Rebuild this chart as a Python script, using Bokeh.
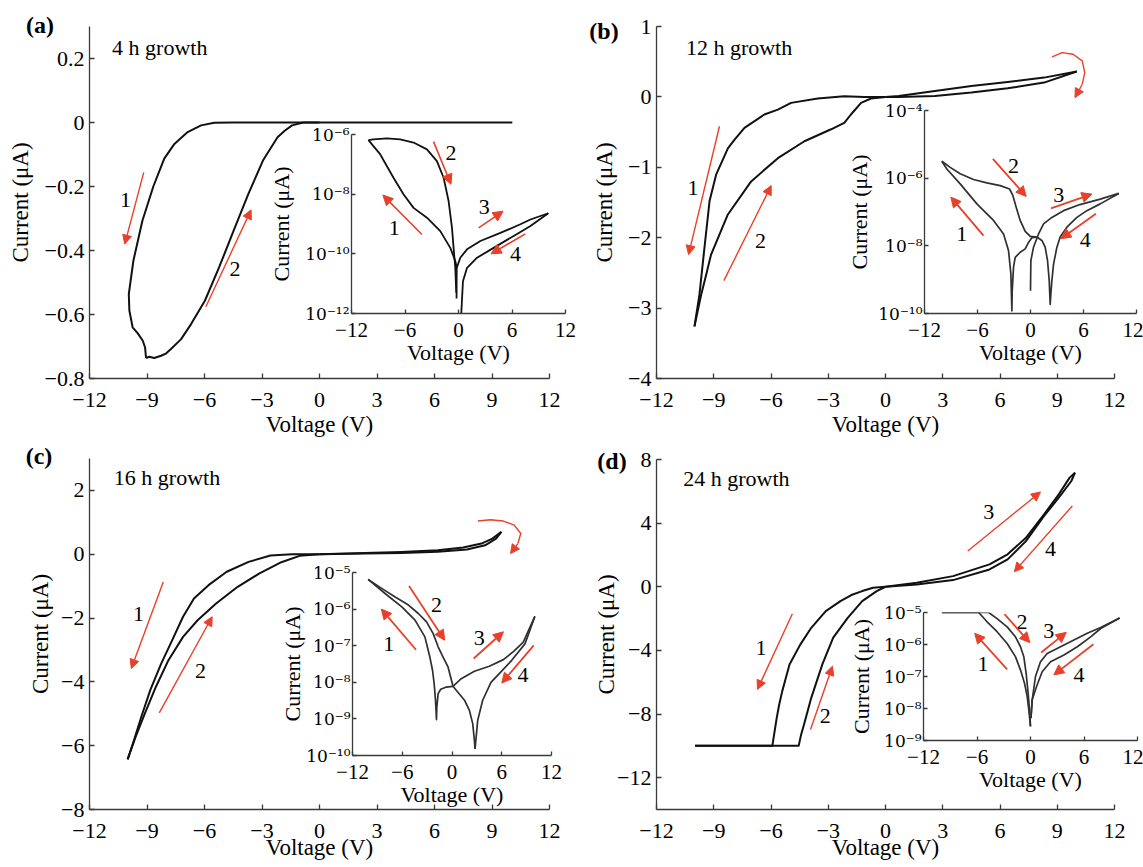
import numpy as np
from bokeh.plotting import figure
from bokeh.models import (Range1d, FixedTicker, CustomJSTickFormatter, Arrow,
                          NormalHead, GridBox, Div)
from bokeh.core.properties import value
from bokeh.embed import file_html
from bokeh.resources import INLINE

FONT = "Liberation Serif"
SUP_FONT = "DejaVu Serif"
RED = "#e8402a"
INK = "#111111"
GREY_INK = "#303030"
AX = "#3a3a3a"

X_RANGE = (-12, 12)
X_TICKS_MAIN = [-12, -9, -6, -3, 0, 3, 6, 9, 12]
X_TICKS_INSET = [-12, -6, 0, 6, 12]

# ------------------------------------------------------------------ (a) 4 h
A_S1_V = [0.0, -4.5, -5.49, -6.18, -6.88, -7.57, -8.1, -8.67, -9.24, -9.71, -9.95, -9.92, -9.75, -9.48, -9.22, -9.1, -9.05]
A_S1_I = [0.0, 0.0, -0.001, -0.009, -0.03, -0.067, -0.113, -0.2, -0.307, -0.432, -0.536, -0.588, -0.64, -0.659, -0.682, -0.703, -0.736]
A_S2_V = [-9.05, -8.88, -8.62, -8.27, -8.01, -7.75, -7.22, -6.7, -5.98, -5.24, -4.48, -3.71, -2.95, -2.19, -1.8, -1.43, -0.86, 0.0, 10.06]
A_S2_I = [-0.736, -0.732, -0.736, -0.729, -0.722, -0.708, -0.677, -0.63, -0.557, -0.453, -0.338, -0.223, -0.119, -0.046, -0.025, -0.009, 0.0, 0.0, 0.0]
A_YRANGE = (-0.8, 0.3)
A_YTICKS = [-0.8, -0.6, -0.4, -0.2, 0, 0.2]
A_ARROWS = [(-9.17, -0.156, -10.16, -0.38), (-5.93, -0.576, -3.57, -0.273)]
A_NUM = (["1", "2"], [-10.12, -4.41], [-0.242, -0.458])
A_TITLE = ("4 h growth", -10.82, 0.234)

AI_S1_V = [-0.22, -0.2, -0.36, -0.92, -2.04, -3.54, -5.04, -6.17, -7.29, -8.79, -10.1]
AI_S1_L = [-11.5, -10.47, -10.24, -9.8, -9.24, -8.79, -8.46, -8.0, -7.45, -6.66, -6.19]
AI_S2_V = [-10.1, -9.54, -8.03, -6.54, -5.04, -3.54, -2.42, -1.67, -1.11, -0.73, -0.55, -0.36, -0.25]
AI_S2_L = [-6.19, -6.16, -6.13, -6.16, -6.27, -6.5, -6.89, -7.45, -8.23, -9.13, -9.8, -10.47, -11.3]
AI_S3_V = [-0.2, 0.2, 0.96, 2.45, 4.7, 6.94, 8.07, 10.07]
AI_S3_L = [-10.47, -10.13, -9.85, -9.57, -9.3, -9.01, -8.85, -8.64]
AI_S4_V = [10.07, 8.07, 6.19, 3.94, 2.08, 0.96, 0.5, 0.31]
AI_S4_L = [-8.64, -9.07, -9.4, -9.8, -10.13, -10.47, -10.92, -12.0]
AI_YRANGE = (1e-12, 1e-6)
AI_YTICKS = [1e-12, 1e-10, 1e-8, 1e-6]
AI_ARROWS = [(-4.1, -9.35, -8.48, -8.03), (-2.8, -6.24, -0.84, -7.67),
             (2.26, -9.13, 5.0, -8.57), (7.5, -9.33, 3.65, -10.0)]
AI_NUM = (["1", "2", "3", "4"], [-7.21, -0.84, 2.9, 6.38], [-9.13, -6.63, -8.43, -10.02])

# ------------------------------------------------------------------ (b) 12 h
B_S1_V = [0.0, -1.11, -2.16, -3.55, -4.95, -5.64, -6.35, -7.39, -7.92, -8.26, -8.87, -9.22, -9.49, -9.75, -10.01]
B_S1_I = [0.0, 0.0, 0.01, -0.023, -0.085, -0.18, -0.25, -0.44, -0.61, -0.73, -1.1, -1.48, -2.15, -2.81, -3.26]
B_S2_V = [-10.01, -9.66, -9.4, -9.14, -8.26, -7.04, -5.64, -4.25, -2.85, -2.16, -1.81, -1.28, -0.76, 0.0]
B_S2_I = [-3.26, -2.81, -2.53, -2.24, -1.67, -1.2, -0.87, -0.63, -0.46, -0.37, -0.25, -0.085, -0.023, 0.0]
B_S3_V = [0.0, 0.69, 2.59, 4.5, 6.4, 8.31, 10.02]
B_S3_I = [0.0, 0.014, 0.085, 0.156, 0.213, 0.274, 0.36]
B_S4_V = [10.02, 8.31, 6.4, 4.5, 2.59, 0.69, 0.0]
B_S4_I = [0.36, 0.203, 0.123, 0.061, 0.014, 0.0, 0.0]
B_ARC_V = [8.73, 9.26, 9.83, 10.31, 10.44, 10.31, 9.93]
B_ARC_I = [0.568, 0.629, 0.606, 0.511, 0.345, 0.18, -0.01]
B_YRANGE = (-4, 1)
B_YTICKS = [-4, -3, -2, -1, 0, 1]
B_ARROWS = [(-8.7, -0.417, -10.32, -2.24), (-8.47, -2.61, -5.99, -1.26)]
B_NUM = (["1", "2"], [-10.09, -6.55], [-1.29, -2.05])
B_TITLE = ("12 h growth", -10.46, 0.70)

BI_S1_V = [0.72, 0.15, -0.22, -0.6, -1.17, -1.73, -1.92, -2.07, -2.11, -2.22, -2.49, -3.05, -4.19, -6.07, -7.96, -9.47, -10.04]
BI_S1_L = [-7.74, -7.76, -7.9, -8.09, -8.19, -8.34, -8.63, -9.33, -9.92, -8.83, -8.14, -7.65, -7.25, -6.76, -6.17, -5.73, -5.5]
BI_S2_V = [-10.04, -9.09, -7.96, -6.45, -4.94, -3.43, -2.37, -2.0, -1.62, -1.17, -0.6, -0.03, 0.72]
BI_S2_L = [-5.5, -5.68, -5.87, -6.04, -6.14, -6.22, -6.32, -6.51, -6.86, -7.25, -7.57, -7.72, -7.74]
BI_S3_V = [0.0, 0.04, 0.34, 0.91, 1.48, 2.42, 3.74, 5.6, 7.9, 10.0]
BI_S3_L = [-9.33, -8.44, -8.04, -7.65, -7.35, -7.16, -6.96, -6.78, -6.62, -6.45]
BI_S4_V = [10.0, 7.89, 6.38, 5.25, 4.12, 3.36, 2.99, 2.61, 2.42, 2.31, 2.23, 2.12, 1.93, 1.66, 1.29, 0.72]
BI_S4_L = [-6.45, -6.76, -6.96, -7.16, -7.45, -7.74, -8.04, -8.54, -9.03, -9.4, -9.73, -9.03, -8.44, -8.04, -7.84, -7.74]
BI_YRANGE = (1e-10, 1e-4)
BI_YTICKS = [1e-10, 1e-8, 1e-6, 1e-4]
BI_ARROWS = [(-5.32, -7.7, -9.02, -6.56), (-4.26, -5.43, -0.49, -6.54),
             (2.31, -6.89, 6.95, -6.47), (7.4, -7.05, 3.44, -7.79)]
BI_NUM = (["1", "2", "3", "4"], [-7.77, -1.92, 3.21, 6.2], [-7.65, -5.63, -6.51, -7.84])

# ------------------------------------------------------------------ (c) 16 h
C_S1_V = [0.0, -1.42, -2.56, -3.7, -4.84, -5.79, -6.55, -7.12, -7.69, -8.26, -8.83, -9.3, -9.68, -10.01]
C_S1_I = [0.0, 0.0, -0.04, -0.24, -0.55, -0.97, -1.39, -1.96, -2.7, -3.43, -4.26, -5.1, -5.83, -6.43]
C_S2_V = [-10.01, -9.59, -9.11, -8.54, -7.88, -7.12, -6.36, -5.41, -4.27, -3.13, -1.99, -1.04, 0.0]
C_S2_I = [-6.43, -5.72, -4.99, -4.16, -3.32, -2.59, -2.07, -1.55, -1.02, -0.6, -0.25, -0.05, 0.0]
C_S3_V = [0.0, 2.37, 4.27, 6.17, 7.5, 8.45, 9.02, 9.49]
C_S3_I = [0.0, 0.04, 0.07, 0.125, 0.21, 0.335, 0.49, 0.7]
C_S4_V = [9.49, 9.21, 8.64, 7.69, 6.17, 4.27, 2.37, 0.0]
C_S4_I = [0.7, 0.49, 0.28, 0.15, 0.08, 0.04, 0.02, 0.0]
C_ARC_V = [8.26, 8.92, 9.59, 10.16, 10.5, 10.35, 9.97]
C_ARC_I = [1.04, 1.08, 1.04, 0.91, 0.65, 0.335, 0.02]
C_YRANGE = (-8, 3)
C_YTICKS = [-8, -6, -4, -2, 0, 2]
C_ARROWS = [(-8.15, -0.87, -9.82, -3.58), (-8.36, -4.97, -5.6, -1.96)]
C_NUM = (["1", "2"], [-9.44, -6.21], [-1.86, -3.66])
C_TITLE = ("16 h growth", -10.73, 2.39)

CI_S1_V = [0.12, -0.68, -1.36, -1.67, -1.83, -1.87, -1.99, -2.15, -2.35, -2.67, -3.27, -4.46, -6.05, -8.04, -10.11]
CI_S1_L = [-8.11, -8.13, -8.19, -8.31, -8.68, -9.02, -8.49, -8.04, -7.67, -7.31, -6.76, -6.3, -5.94, -5.58, -5.19]
CI_S2_V = [-10.11, -8.44, -6.85, -5.25, -4.06, -3.07, -2.27, -1.67, -1.08, -0.48, -0.16, 0.12, 0.71, 1.51, 2.1, 2.5, 2.7, 2.78]
CI_S2_L = [-5.19, -5.44, -5.67, -5.89, -6.12, -6.35, -6.67, -7.03, -7.31, -7.58, -7.86, -8.11, -8.27, -8.49, -8.77, -9.13, -9.59, -9.82]
CI_S3_V = [0.12, 1.11, 2.7, 4.5, 6.2, 7.47, 8.6, 9.99]
CI_S3_L = [-8.11, -7.9, -7.7, -7.56, -7.38, -7.15, -6.9, -6.2]
CI_S4_V = [9.99, 8.8, 7.2, 4.7, 3.7, 3.1, 2.78]
CI_S4_L = [-6.2, -6.95, -7.4, -8.0, -8.49, -9.04, -9.82]
CI_YRANGE = (1e-10, 1e-5)
CI_YTICKS = [1e-10, 1e-9, 1e-8, 1e-7, 1e-6, 1e-5]
CI_ARROWS = [(-4.34, -7.11, -8.52, -6.0), (-5.18, -5.37, -0.88, -6.85),
             (2.62, -7.35, 6.2, -6.62), (9.86, -6.99, 6.0, -8.02)]
CI_NUM = (["1", "2", "3", "4"], [-7.64, -1.87, 3.3, 8.55], [-6.94, -5.89, -6.78, -7.81])

# ------------------------------------------------------------------ (d) 24 h
D_S1_V = [0.0, -0.65, -1.22, -1.79, -2.36, -3.13, -3.89, -4.46, -5.03, -5.22, -5.41, -5.57, -5.7, -5.93, -9.98]
D_S1_I = [0.0, -0.06, -0.27, -0.52, -0.9, -1.53, -2.58, -3.62, -4.88, -5.72, -6.56, -7.4, -8.24, -10.0, -10.0]
D_S2_V = [-9.98, -4.55, -4.42, -4.27, -3.89, -3.31, -2.74, -1.98, -1.22, -0.46, 0.0]
D_S2_I = [-10.0, -10.0, -9.28, -8.66, -6.98, -4.88, -3.2, -1.95, -0.9, -0.27, 0.0]
D_S3_V = [0.0, 1.64, 3.54, 5.45, 6.4, 7.36, 8.31, 9.08, 9.65, 9.93]
D_S3_I = [0.0, 0.25, 0.67, 1.41, 2.04, 3.08, 4.55, 5.81, 6.86, 7.17]
D_S4_V = [9.93, 9.74, 9.08, 8.31, 7.36, 6.4, 5.45, 3.54, 1.64, 0.0]
D_S4_I = [7.17, 6.65, 5.6, 4.45, 2.87, 1.72, 1.09, 0.42, 0.15, 0.0]
D_YRANGE = (-14, 8)
D_YTICKS = [-12, -8, -4, 0, 4, 8]
D_ARROWS = [(-4.88, -1.7, -6.71, -6.45), (-3.93, -8.97, -2.78, -4.99),
            (4.31, 2.25, 8.12, 5.96), (9.79, 5.08, 6.75, 0.95)]
D_NUM = (["1", "2", "3", "4"], [-6.52, -3.16, 5.41, 8.65], [-3.87, -8.13, 4.72, 2.35])
D_TITLE = ("24 h growth", -10.6, 6.79)

DI_S1_V = [0.0, -0.19, -0.37, -0.67, -1.12, -1.69, -2.62, -3.75, -4.87, -5.81, -9.94]
DI_S1_L = [-8.56, -8.04, -7.63, -7.21, -6.8, -6.38, -5.97, -5.6, -5.29, -5.0, -5.0]
DI_S2_V = [-9.94, -4.69, -3.75, -2.62, -1.69, -1.12, -0.75, -0.49, -0.3, -0.11, 0.0]
DI_S2_L = [-5.0, -5.0, -5.19, -5.45, -5.76, -6.07, -6.38, -6.9, -7.42, -8.04, -8.56]
DI_S3_V = [0.05, 0.19, 0.56, 1.12, 1.87, 3.37, 4.87, 6.37, 7.87, 10.0]
DI_S3_L = [-8.3, -7.73, -7.0, -6.54, -6.28, -6.07, -5.86, -5.65, -5.47, -5.17]
DI_S4_V = [10.0, 7.87, 6.75, 5.25, 3.75, 2.25, 1.31, 0.67, 0.19, 0.05]
DI_S4_L = [-5.17, -5.5, -5.76, -6.07, -6.33, -6.54, -6.85, -7.32, -7.73, -8.3]
DI_YRANGE = (1e-9, 1e-5)
DI_YTICKS = [1e-9, 1e-8, 1e-7, 1e-6, 1e-5]
DI_ARROWS = [(-2.62, -6.78, -6.26, -5.65), (-2.92, -5.05, -0.08, -5.94),
             (1.2, -6.25, 4.01, -5.62), (7.05, -5.99, 2.62, -6.95)]
DI_NUM = (["1", "2", "3", "4"], [-5.32, -0.94, 2.06, 5.44], [-6.61, -5.3, -5.57, -6.95])

PANEL_TAGS = ["(a)", "(b)", "(c)", "(d)"]

# ------------------------------------------------------------------ formatters
MINUS_JS = "return String(tick).replace('-', '\u2212');"
LOG_JS = """
const e = Math.round(Math.log10(tick));
const m = {'-':'\u207b','0':'\u2070','1':'\u00b9','2':'\u00b2','3':'\u00b3','4':'\u2074',
           '5':'\u2075','6':'\u2076','7':'\u2077','8':'\u2078','9':'\u2079'};
return '10' + String(e).split('').map(c => m[c]).join('');
"""


def style_axes(p, tick_size, label_size, tick_in):
    for ax in (p.xaxis[0], p.yaxis[0]):
        ax.axis_line_color = AX
        ax.axis_line_width = 1.3
        ax.major_tick_line_color = AX
        ax.major_tick_line_width = 1.3
        ax.major_tick_in = tick_in
        ax.major_tick_out = 0
        ax.minor_tick_line_color = None
        ax.major_label_text_font = FONT
        ax.major_label_text_font_size = tick_size
        ax.major_label_text_color = "black"
        ax.axis_label_text_font = FONT
        ax.axis_label_text_font_size = label_size
        ax.axis_label_text_font_style = "normal"
        ax.axis_label_text_color = "black"


def build_main(g, yrange, yticks, ylab_standoff, xlab_standoff):
    p = figure(width=g["w"], height=g["h"], x_range=Range1d(*X_RANGE), y_range=Range1d(*yrange),
               output_backend="svg", toolbar_location=None, tools="", title_location=None,
               frame_align=False,
               min_border_left=g["l"], min_border_right=g["r"],
               min_border_top=g["t"], min_border_bottom=g["b"])
    p.grid.visible = False
    p.outline_line_color = None
    p.background_fill_color = "white"
    p.border_fill_color = "white"
    style_axes(p, "22px", "23px", 5)
    p.xaxis.ticker = FixedTicker(ticks=X_TICKS_MAIN)
    p.yaxis.ticker = FixedTicker(ticks=yticks)
    p.xaxis.formatter = CustomJSTickFormatter(code=MINUS_JS)
    p.yaxis.formatter = CustomJSTickFormatter(code=MINUS_JS)
    p.xaxis.major_label_standoff = 14
    p.yaxis.major_label_standoff = 5
    p.xaxis.axis_label = "Voltage (V)"
    p.yaxis.axis_label = "Current (\u03bcA)"
    p.xaxis.axis_label_standoff = xlab_standoff
    p.yaxis.axis_label_standoff = ylab_standoff
    return p


def build_inset(g, yrange, yticks, ylab_standoff):
    L, T, B = 100, 12, 64
    p = figure(width=L + g["fw"] + g["r"], height=T + g["fh"] + B,
               x_range=Range1d(*X_RANGE), y_range=Range1d(*yrange), y_axis_type="log",
               output_backend="svg", toolbar_location=None, tools="", title_location=None,
               frame_align=False,
               min_border_left=L, min_border_right=g["r"], min_border_top=T, min_border_bottom=B)
    p.margin = (g["ft"] - T, 0, 0, g["fl"] - L)
    p.grid.visible = False
    p.outline_line_color = None
    p.background_fill_alpha = 0
    p.border_fill_alpha = 0
    style_axes(p, "21px", "22px", 4)
    p.yaxis.major_label_text_font = SUP_FONT
    p.yaxis.major_label_text_font_size = "17px"
    p.xaxis.ticker = FixedTicker(ticks=X_TICKS_INSET)
    p.yaxis.ticker = FixedTicker(ticks=yticks)
    p.xaxis.formatter = CustomJSTickFormatter(code=MINUS_JS)
    p.yaxis.formatter = CustomJSTickFormatter(code=LOG_JS)
    p.xaxis.major_label_standoff = 9
    p.yaxis.major_label_standoff = 2
    p.xaxis.axis_label = "Voltage (V)"
    p.yaxis.axis_label = "Current (\u03bcA)"
    p.xaxis.axis_label_standoff = 0
    p.yaxis.axis_label_standoff = ylab_standoff
    return p


def build_tag(text, cx, cy):
    w, h = 50, 30
    return Div(text=text, width=w, height=h,
               margin=(int(round(cy - h / 2)), 0, 0, int(round(cx - w / 2))),
               styles={"font-family": FONT, "font-size": "24px", "font-weight": "bold",
                       "line-height": "30px", "text-align": "center", "color": "black"})


def add_arrows(p, arrows, log=False, head=9, width=1.4):
    for (x0, y0, x1, y1) in arrows:
        if log:
            y0, y1 = 10 ** y0, 10 ** y1
        p.add_layout(Arrow(end=NormalHead(size=head, fill_color=RED, line_color=RED, line_width=1),
                           x_start=x0, y_start=y0, x_end=x1, y_end=y1,
                           line_color=RED, line_width=width))


def add_numbers(p, nums, log=False):
    t, xs, ys = nums
    if log:
        ys = list(10 ** np.array(ys))
    p.text(x=xs, y=ys, text=t, text_font=value(FONT), text_font_size="22px",
           text_align="center", text_baseline="middle", text_color="black")


def add_title(p, title):
    s, x, y = title
    p.text(x=[x], y=[y], text=[s], text_font=value(FONT), text_font_size="22px",
           text_align="left", text_baseline="middle", text_color="black")


def add_arc(p, xs, ys):
    p.line(xs[:-1], ys[:-1], line_color=RED, line_width=1.4)
    add_arrows(p, [(xs[-2], ys[-2], xs[-1], ys[-1])])


def main_lines(p, series, color=INK, width=2.0):
    for xs, ys in series:
        p.line(xs, ys, line_color=color, line_width=width, line_join="round")


def inset_lines(p, series, color, width):
    for xs, ls in series:
        p.line(xs, list(10 ** np.array(ls)), line_color=color, line_width=width, line_join="round")


# ------------------------------------------------------------------ geometry (page pixels)
GA = dict(w=568, h=444, l=89, r=19, t=26, b=66)
GB = dict(w=575, h=444, l=88, r=29, t=26, b=66)
GC = dict(w=568, h=423, l=89, r=19, t=14, b=58)
GD = dict(w=575, h=423, l=88, r=29, t=15, b=58)
IA = dict(fl=351, ft=134, fw=214, fh=179, r=14)
IB = dict(fl=924, ft=110, fw=212, fh=203, r=7)
IC = dict(fl=352, ft=128, fw=199, fh=183, r=14)
ID = dict(fl=923, ft=168, fw=214, fh=128, r=6)
TAG_POS = [(40, 25), (36, 31), (39, 12), (44, 17)]

# (a)
pa = build_main(GA, A_YRANGE, A_YTICKS, 9, 2)
main_lines(pa, [(A_S1_V, A_S1_I), (A_S2_V, A_S2_I)])
add_arrows(pa, A_ARROWS)
add_numbers(pa, A_NUM)
add_title(pa, A_TITLE)
ia = build_inset(IA, AI_YRANGE, AI_YTICKS, 8)
inset_lines(ia, [(AI_S1_V, AI_S1_L), (AI_S2_V, AI_S2_L), (AI_S3_V, AI_S3_L), (AI_S4_V, AI_S4_L)], INK, 1.8)
add_arrows(ia, AI_ARROWS, log=True, head=10, width=1.6)
add_numbers(ia, AI_NUM, log=True)

# (b)
pb = build_main(GB, B_YRANGE, B_YTICKS, 8, 2)
main_lines(pb, [(B_S1_V, B_S1_I), (B_S2_V, B_S2_I), (B_S3_V, B_S3_I), (B_S4_V, B_S4_I)])
add_arrows(pb, B_ARROWS)
add_arc(pb, B_ARC_V, B_ARC_I)
add_numbers(pb, B_NUM)
add_title(pb, B_TITLE)
ib = build_inset(IB, BI_YRANGE, BI_YTICKS, 3)
inset_lines(ib, [(BI_S1_V, BI_S1_L), (BI_S2_V, BI_S2_L), (BI_S3_V, BI_S3_L), (BI_S4_V, BI_S4_L)], GREY_INK, 1.7)
add_arrows(ib, BI_ARROWS, log=True, head=10, width=1.8)
add_numbers(ib, BI_NUM, log=True)

# (c)
pc = build_main(GC, C_YRANGE, C_YTICKS, 5, -6)
main_lines(pc, [(C_S1_V, C_S1_I), (C_S2_V, C_S2_I), (C_S3_V, C_S3_I), (C_S4_V, C_S4_I)])
add_arrows(pc, C_ARROWS)
add_arc(pc, C_ARC_V, C_ARC_I)
add_numbers(pc, C_NUM)
add_title(pc, C_TITLE)
ic = build_inset(IC, CI_YRANGE, CI_YTICKS, -2)
inset_lines(ic, [(CI_S1_V, CI_S1_L), (CI_S2_V, CI_S2_L), (CI_S3_V, CI_S3_L), (CI_S4_V, CI_S4_L)], GREY_INK, 1.7)
add_arrows(ic, CI_ARROWS, log=True, head=10, width=1.8)
add_numbers(ic, CI_NUM, log=True)

# (d)
pd_ = build_main(GD, D_YRANGE, D_YTICKS, -5, -6)
main_lines(pd_, [(D_S1_V, D_S1_I), (D_S2_V, D_S2_I), (D_S3_V, D_S3_I), (D_S4_V, D_S4_I)])
add_arrows(pd_, D_ARROWS)
add_numbers(pd_, D_NUM)
add_title(pd_, D_TITLE)
idd = build_inset(ID, DI_YRANGE, DI_YTICKS, 7)
inset_lines(idd, [(DI_S1_V, DI_S1_L), (DI_S2_V, DI_S2_L), (DI_S3_V, DI_S3_L), (DI_S4_V, DI_S4_L)], GREY_INK, 1.7)
add_arrows(idd, DI_ARROWS, log=True, head=10, width=1.8)
add_numbers(idd, DI_NUM, log=True)

tags = [build_tag(t, cx, cy) for t, (cx, cy) in zip(PANEL_TAGS, TAG_POS)]

grid = GridBox(children=[(pa, 0, 0), (pb, 0, 1), (pc, 1, 0), (pd_, 1, 1),
                         (ia, 0, 0, 1, 2), (ib, 0, 0, 1, 2), (ic, 1, 0, 1, 2), (idd, 1, 0, 1, 2),
                         (tags[0], 0, 0), (tags[1], 0, 1), (tags[2], 1, 0), (tags[3], 1, 1)],
               spacing=0)

open("out.html", "w").write(file_html(grid, INLINE))
